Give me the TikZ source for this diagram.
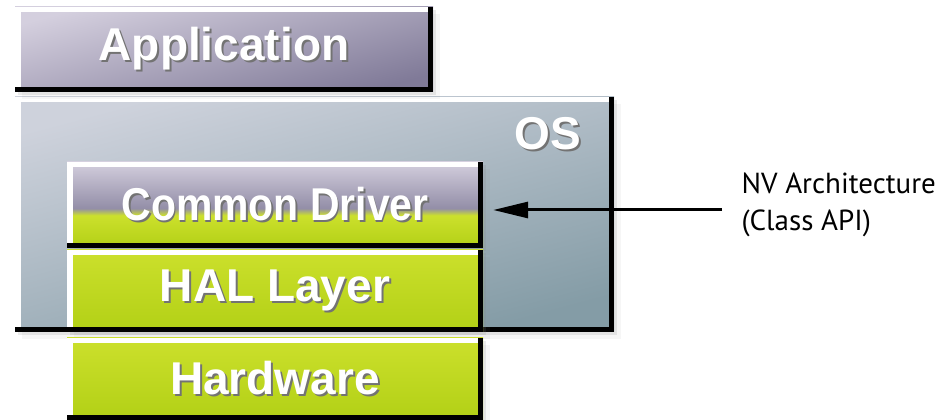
\documentclass[tikz,border=0pt]{standalone}
\usepackage{fontspec}
\newfontfamily\layerfont{Liberation Sans}
\newfontfamily\notefont{PT Sans}
\usetikzlibrary{arrows.meta,shadows}

\definecolor{appTop}{RGB}{212,207,222}
\definecolor{appBot}{RGB}{128,122,152}
\definecolor{osTop}{RGB}{206,210,220}
\definecolor{osBot}{RGB}{132,156,166}
\definecolor{limeTop}{RGB}{204,224,44}
\definecolor{limeBot}{RGB}{178,208,22}

% purple on top, lime below (Common Driver)
\pgfdeclareverticalshading{drvshade}{100bp}{color(0bp)=(limeBot); color(25bp)=(limeBot);
  color(44bp)=(limeTop); color(48bp)=(appBot!85!white); color(75bp)=(appTop); color(100bp)=(appTop)}

\newcommand\layertext[1]{\rlap{\hspace{2pt}\raisebox{-2pt}{\textcolor{black!55}{#1}}}#1}

\tikzset{
  layerbox/.style={rectangle, inner sep=0pt,
    drop shadow={shadow xshift=3pt, shadow yshift=-3pt, opacity=.16},
    drop shadow={shadow xshift=7pt, shadow yshift=-7pt, opacity=.07},
    path picture={
      \path (path picture bounding box.south west) coordinate (bl)
            (path picture bounding box.north east) coordinate (tr);
      \fill[white] ([xshift=6pt]bl) rectangle (bl |- tr);
      \fill[white] ([yshift=-5pt]tr) rectangle (bl |- tr);
      \fill[black] ([xshift=-5pt]tr) rectangle (tr |- bl);
      \fill[black] ([yshift=5pt]bl) rectangle (tr |- bl);
    }},
  layertxt/.style={text=white, font=\layerfont\bfseries\fontsize{46}{50}\selectfont},
  purplebox/.style={layerbox, layertxt, top color=appTop, bottom color=appBot, shading angle=15},
  limebox/.style={layerbox, layertxt, top color=limeTop, bottom color=limeBot},
  osbox/.style={layerbox, top color=osTop, bottom color=osBot, shading angle=15},
  note/.style={font=\notefont\fontsize{29}{37}\selectfont, align=left, anchor=west},
}

\begin{document}
\begin{tikzpicture}[x=1pt,y=1pt]
  \useasboundingbox (0,0) rectangle (939,420);

  \node[osbox, minimum width=599, minimum height=235] (os) at (314.5,205.5) {};
  \node[layertxt] (oslbl) at (548,285) {\layertext{OS}};

  \node[purplebox, minimum width=418, minimum height=85] (app) at (224,370.5) {\layertext{Application}};
  \node[layerbox, layertxt, shading=drvshade, minimum width=416, minimum height=86] (drv) at (275,215)
    {\scalebox{0.89}[1]{\layertext{Common Driver}}};
  \node[limebox, minimum width=416, minimum height=82] (hal) at (275,129) {\layertext{HAL Layer}};
  \node[limebox, minimum width=416, minimum height=82] (hw) at (275,41) {\layertext{Hardware}};

  \node[note] (nv) at (738,215) {NV Architecture\\(Class API)};
  \coordinate (api) at (722,210);
  \draw[line width=3pt, -{Triangle[length=35pt,width=16pt]}] (api) -- ([xshift=10pt]drv.east |- api);
\end{tikzpicture}
\end{document}
